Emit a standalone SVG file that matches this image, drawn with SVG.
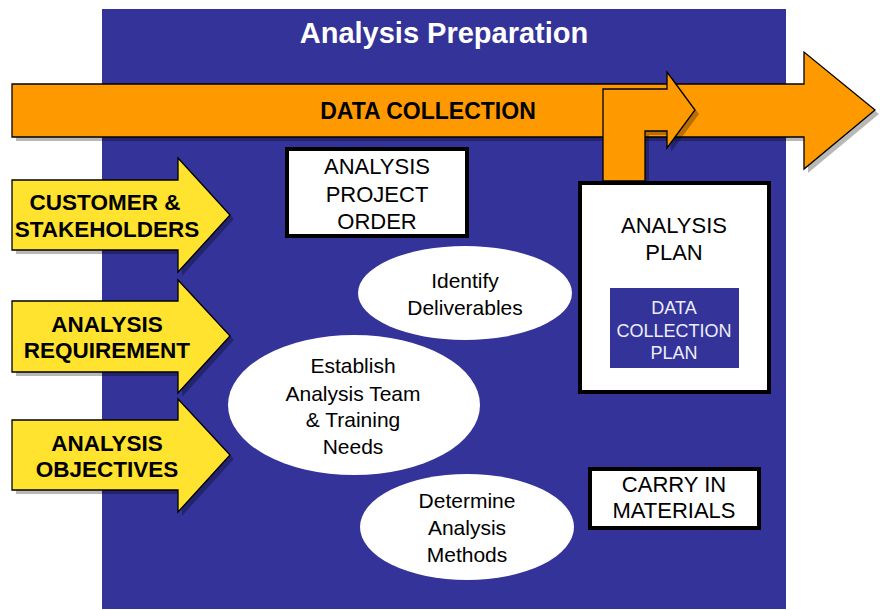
<svg xmlns="http://www.w3.org/2000/svg" width="880" height="610" viewBox="0 0 880 610">
<defs>
<style>
.bg{fill:#333399}
.orange{fill:#FF9900;stroke:#000;stroke-width:1.3;stroke-linejoin:miter}
.yellow{fill:#FFE32E;stroke:#000;stroke-width:1.3;stroke-linejoin:miter}
.shadow{fill:#000;opacity:0.28}
.box{fill:#fff;stroke:#000;stroke-width:4}
.ell{fill:#fff}
.t{font-family:"Liberation Sans",Arial,sans-serif;text-anchor:middle;fill:#000}
.bold{font-weight:bold}
</style>
</defs>
<rect class="bg" x="102" y="9" width="684" height="600"/>
<text class="t bold" x="444" y="43" font-size="29" style="fill:#fff">Analysis Preparation</text>

<g id="data-collection">
<path class="shadow" d="M16,88 L808,88 L808,56 L879,114 L808,173 L808,141 L16,141 Z"/>
<path class="orange" d="M12,84 L804,84 L804,52 L875,110 L804,169 L804,137 L12,137 Z"/>
<text class="t bold" x="428" y="119" font-size="23">DATA COLLECTION</text>
</g>

<g id="plan-arrow">
<path class="shadow" d="M607,185 L607,93 L671,93 L671,76 L699,114 L671,152 L671,135 L649,135 L649,185 Z"/>
<path class="orange" d="M603,181 L603,89 L667,89 L667,72 L695,110 L667,148 L667,131 L645,131 L645,181 Z"/>
</g>

<g id="customer">
<path class="shadow" d="M16,184 L182,184 L182,162 L234,219 L182,276 L182,254 L16,254 Z"/>
<path class="yellow" d="M12,180 L178,180 L178,158 L230,215 L178,272 L178,250 L12,250 Z"/>
<text class="t bold" x="105" y="210" font-size="22.5">CUSTOMER &amp;</text>
<text class="t bold" x="107" y="237" font-size="22.5">STAKEHOLDERS</text>
</g>

<g id="requirement">
<path class="shadow" d="M16,305 L182,305 L182,284 L234,340 L182,397 L182,376 L16,376 Z"/>
<path class="yellow" d="M12,301 L178,301 L178,280 L230,336 L178,393 L178,372 L12,372 Z"/>
<text class="t bold" x="107" y="332" font-size="22.5">ANALYSIS</text>
<text class="t bold" x="107" y="358" font-size="22.5">REQUIREMENT</text>
</g>

<g id="objectives">
<path class="shadow" d="M16,424 L182,424 L182,403 L234,459 L182,516 L182,494 L16,494 Z"/>
<path class="yellow" d="M12,420 L178,420 L178,399 L230,455 L178,512 L178,490 L12,490 Z"/>
<text class="t bold" x="107" y="451" font-size="22.5">ANALYSIS</text>
<text class="t bold" x="107" y="477" font-size="22.5">OBJECTIVES</text>
</g>

<g id="project-order">
<rect class="box" x="287" y="149" width="180" height="87"/>
<text class="t" x="377" y="174" font-size="22">ANALYSIS</text>
<text class="t" x="377" y="202" font-size="22">PROJECT</text>
<text class="t" x="377" y="229" font-size="22">ORDER</text>
</g>

<g id="identify">
<ellipse class="ell" cx="465" cy="293" rx="107" ry="47"/>
<text class="t" x="465" y="288" font-size="21">Identify</text>
<text class="t" x="465" y="315" font-size="21">Deliverables</text>
</g>

<g id="establish">
<ellipse class="ell" cx="354" cy="405" rx="126" ry="70"/>
<text class="t" x="353" y="373" font-size="21">Establish</text>
<text class="t" x="353" y="401" font-size="21">Analysis Team</text>
<text class="t" x="353" y="427" font-size="21">&amp; Training</text>
<text class="t" x="353" y="454" font-size="21">Needs</text>
</g>

<g id="determine">
<ellipse class="ell" cx="467" cy="527" rx="107" ry="53"/>
<text class="t" x="467" y="508" font-size="21">Determine</text>
<text class="t" x="467" y="535" font-size="21">Analysis</text>
<text class="t" x="467" y="562" font-size="21">Methods</text>
</g>

<g id="analysis-plan">
<rect class="box" x="580" y="183" width="189" height="209"/>
<text class="t" x="674" y="233" font-size="22">ANALYSIS</text>
<text class="t" x="674" y="260" font-size="22">PLAN</text>
<rect class="bg" x="610" y="288" width="129" height="80"/>
<text class="t" x="674" y="314" font-size="18" style="fill:#EEEEFA">DATA</text>
<text class="t" x="674" y="337" font-size="18" style="fill:#EEEEFA">COLLECTION</text>
<text class="t" x="674" y="359" font-size="18" style="fill:#EEEEFA">PLAN</text>
</g>

<g id="carry-in">
<rect class="box" x="590" y="469" width="169" height="59"/>
<text class="t" x="674" y="492" font-size="22">CARRY IN</text>
<text class="t" x="674" y="518" font-size="22">MATERIALS</text>
</g>
</svg>
